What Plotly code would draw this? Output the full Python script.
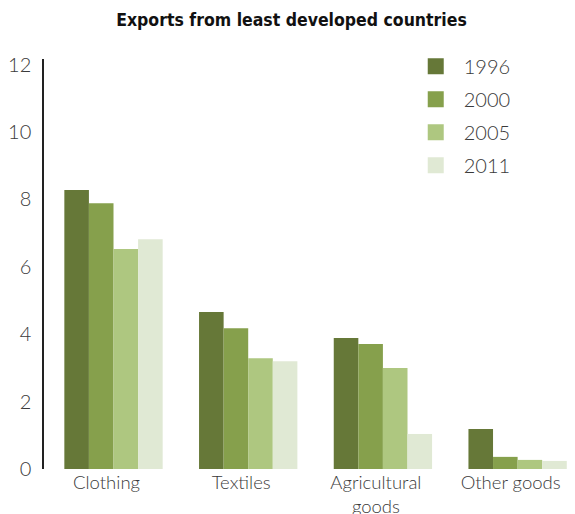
import plotly.graph_objects as go

# Datos
categorias = ["Clothing", "Textiles", "Agricultural<br>goods", "Other goods"]
anios = ["1996", "2000", "2005", "2011"]
valores_1996 = [8.28, 4.66, 3.89, 1.19]
valores_2000 = [7.89, 4.18, 3.71, 0.36]
valores_2005 = [6.53, 3.29, 3.00, 0.27]
valores_2011 = [6.82, 3.20, 1.04, 0.24]
colores = ["#667838", "#86a04c", "#aec780", "#e0e9d4"]

series = [valores_1996, valores_2000, valores_2005, valores_2011]

fig = go.Figure()

# Barras agrupadas
for anio, valores, color in zip(anios, series, colores):
    fig.add_trace(go.Bar(
        x=categorias, y=valores, name=anio,
        marker=dict(color=color, line=dict(width=0)),
        showlegend=False,
    ))

# Leyenda con cuadrados grandes
for anio, color in zip(anios, colores):
    fig.add_trace(go.Scatter(
        x=[None], y=[None], mode="markers", name=anio, legendgroup=anio,
        marker=dict(symbol="square", size=19, color=color),
    ))

# la pagina tiene 8px de margen en el body: se descuentan aqui
fig.update_layout(
    width=567, height=506,
    margin=dict(l=36, r=0, t=51, b=45, autoexpand=False),
    plot_bgcolor="white", paper_bgcolor="white",
    barmode="group", bargap=0.27, bargroupgap=0,
    title=dict(
        text="<b>Exports from least developed countries</b>",
        x=0.5, xanchor="center", y=0.976, yanchor="middle",
        font=dict(family="DejaVu Sans Condensed", size=17.5, color="#111111"),
    ),
    font=dict(family="Lato", size=18, color="#3a3a3a", weight=300),
    legend=dict(
        x=0.685, y=1.030, xanchor="left", yanchor="top",
        tracegroupgap=4, font=dict(size=20), itemwidth=46,
        bgcolor="rgba(0,0,0,0)",
    ),
)

fig.update_xaxes(
    range=[-0.516, 3.426], showline=False, ticks="", showgrid=False,
    tickfont=dict(size=18.5), automargin=False, ticklabelshift=-7,
)
fig.update_yaxes(
    range=[0, 12.17], tickvals=[0, 2, 4, 6, 8, 10, 12],
    showline=True, linecolor="#222222", linewidth=1.5,
    showgrid=False, zeroline=False, ticks="", ticklabelstandoff=7,
    tickfont=dict(size=20), automargin=False,
)

fig.write_html("out.html")
